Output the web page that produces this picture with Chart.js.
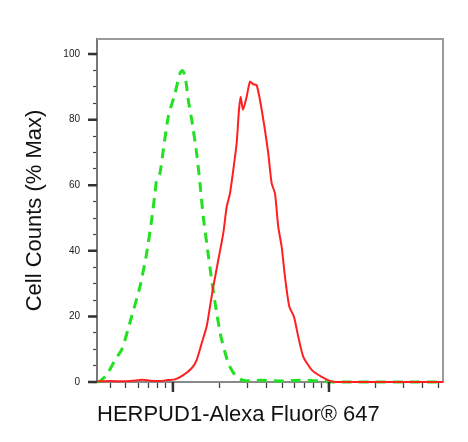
<!DOCTYPE html>
<html>
<head>
<meta charset="utf-8">
<script src="https://cdn.jsdelivr.net/npm/chart.js@4"></script>
<style>
  body { margin: 0; background: #fff; }
  canvas { display: block; }
</style>
</head>
<body>
<canvas id="histo" width="468" height="442"></canvas>
<script>
// isotype control (green dashed)
const controlX = [326, 340, 378, 425, 471, 543, 614, 678, 730, 767, 786, 825, 867, 933,
  1030, 1109, 1147, 1194, 1254, 1324, 1419, 1490, 1564, 1669, 1771, 1878, 2031, 2262,
  2424, 2622, 2894, 3612, 4852, 6519, 8757, 10450, 53800];
const controlY = [0, 0.2, 2.3, 6.7, 10, 19.9, 29, 39.2, 49.4, 57.5, 61.6, 63.6, 70.7, 80.9,
  88, 94.1, 95, 93.6, 86, 79.5, 69.7, 60.6, 50.4, 40.2, 31.1, 23, 13.8, 5.7,
  3, 1.1, 0.4, 0.5, 0.3, 0.5, 0.3, 0, 0];

// HERPUD1 stained (red solid)
const stainedX = [326, 395, 492, 596, 642, 712, 825, 929, 1030, 1164, 1318, 1419, 1528,
  1644, 1727, 1813, 1952, 2101, 2209, 2319, 2435, 2560, 2649, 2716, 2810, 2968, 3116,
  3271, 3439, 3612, 3888, 4082, 4292, 4507, 4732, 4975, 5224, 5567, 5966, 6356, 6844,
  7746, 8979, 10656, 15800, 53800];
const stainedY = [0.2, 0.3, 0.2, 0.5, 0.7, 0.4, 0.3, 0.6, 0.8, 2.1, 4.2, 6.7, 11.8,
  16.9, 23, 29, 37.2, 45.3, 53.4, 57.5, 64.6, 72.8, 82.9, 87, 83, 87, 91.6,
  90.8, 90.5, 86, 76.8, 69.7, 60.6, 57.5, 47.3, 41.2, 32.1, 23, 19.9, 13.8, 7.7,
  3.7, 1.6, 0.1, 0, 0];

const xTicks = [400, 500, 600, 700, 800, 900, 1000, 2000, 3000, 4000, 5000, 6000, 7000,
  8000, 9000, 10000, 20000, 30000, 40000, 50000];
const xMajor = [1000, 10000];
const yTicks = [0, 5, 10, 15, 20, 25, 30, 35, 40, 45, 50, 55, 60, 65, 70, 75, 80, 85, 90, 95, 100];
const yMajor = [0, 20, 40, 60, 80, 100];

Chart.defaults.font.family = "'Liberation Sans', Arial, sans-serif";

// frame on top/right plus the long major tick marks
const frameAndTicks = {
  id: 'frameAndTicks',
  beforeDatasetsDraw(chart) {
    const { ctx, chartArea: a } = chart;
    ctx.save();
    ctx.strokeStyle = '#9a9a9a';
    ctx.lineWidth = 2;
    ctx.beginPath();
    ctx.moveTo(a.left, a.top);
    ctx.lineTo(a.right, a.top);
    ctx.lineTo(a.right, a.bottom);
    ctx.stroke();
    ctx.restore();
  },
  afterDraw(chart) {
    const { ctx, chartArea: a, scales } = chart;
    ctx.save();
    ctx.strokeStyle = '#333';
    ctx.lineWidth = 2.5;
    ctx.beginPath();
    xMajor.forEach(v => {
      const px = scales.x.getPixelForValue(v);
      ctx.moveTo(px, a.bottom);
      ctx.lineTo(px, a.bottom + 10);
    });
    yMajor.forEach(v => {
      const py = scales.y.getPixelForValue(v);
      ctx.moveTo(a.left, py);
      ctx.lineTo(a.left - 9, py);
    });
    ctx.stroke();
    ctx.restore();
  }
};

new Chart(document.getElementById('histo'), {
  type: 'line',
  data: {
    datasets: [
      {
        label: 'HERPUD1',
        data: stainedX.map((x, i) => ({ x, y: stainedY[i] })),
        borderColor: '#ff1f1f',
        borderWidth: 2,
        pointRadius: 0,
        tension: 0.2,
        clip: 4,
        order: 0
      },
      {
        label: 'Isotype',
        data: controlX.map((x, i) => ({ x, y: controlY[i] })),
        borderColor: '#22e022',
        borderWidth: 3,
        borderDash: [10, 7],
        pointRadius: 0,
        tension: 0.2,
        clip: 4,
        order: 1
      }
    ]
  },
  options: {
    responsive: false,
    animation: false,
    layout: { padding: { left: 18, top: 39, right: 25, bottom: 10 } },
    plugins: { legend: { display: false }, tooltip: { enabled: false } },
    scales: {
      x: {
        type: 'logarithmic',
        min: 326,
        max: 53800,
        afterBuildTicks: s => { s.ticks = xTicks.map(v => ({ value: v })); },
        afterFit: s => { s.height = 50; },
        ticks: { display: false },
        grid: {
          drawOnChartArea: false,
          drawTicks: true,
          tickLength: 6,
          tickColor: '#444',
          tickWidth: 1.3
        },
        border: { color: '#8a8a8a', width: 2 },
        title: {
          display: true,
          text: 'HERPUD1-Alexa Fluor® 647',
          align: 'start',
          color: '#111',
          font: { size: 22 },
          padding: { top: 4, bottom: 4 }
        }
      },
      y: {
        min: 0,
        max: 104.6,
        afterBuildTicks: s => { s.ticks = yTicks.map(v => ({ value: v })); },
        afterFit: s => { s.width = 79; },
        ticks: {
          autoSkip: false,
          padding: 13,
          color: '#222',
          font: { size: 10 },
          callback: v => (yMajor.includes(v) ? String(v) : '')
        },
        grid: {
          drawOnChartArea: false,
          drawTicks: true,
          tickLength: 4,
          tickColor: '#444',
          tickWidth: 1.2
        },
        border: { color: '#777', width: 2 },
        title: {
          display: true,
          text: 'Cell Counts (% Max)',
          color: '#111',
          font: { size: 22 },
          padding: { top: 4, bottom: 4 }
        }
      }
    }
  },
  plugins: [frameAndTicks]
});
</script>
</body>
</html>
